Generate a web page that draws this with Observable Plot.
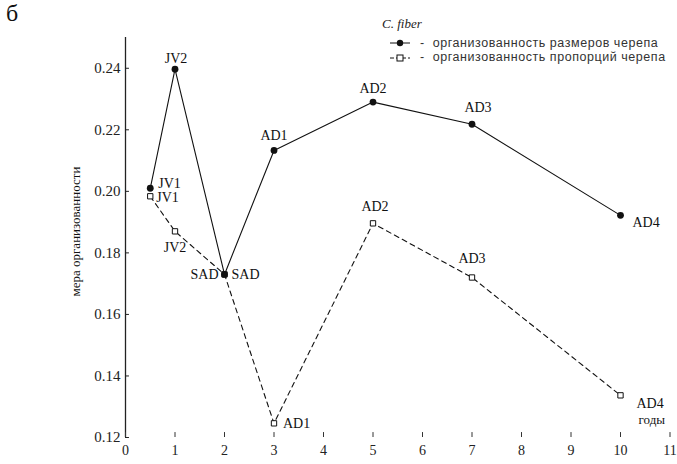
<!DOCTYPE html>
<html>
<head>
<meta charset="utf-8">
<script src="https://cdn.jsdelivr.net/npm/d3@7"></script>
<script src="https://cdn.jsdelivr.net/npm/@observablehq/plot@0.6"></script>
<style>
  body { margin: 0; background: #fff; }
  #wrap { position: relative; width: 677px; height: 464px; overflow: hidden; background: #fff; }
  #panel { position: absolute; left: 6px; top: 0px; font: 24px "Liberation Serif", serif; color: #111; }
  #legend { position: absolute; left: 380px; top: 16px; color: #222; white-space: nowrap; }
  #legend .title { font: italic 13px "Liberation Serif", serif; margin-left: 2px; height: 20px; }
  #legend .row { display: flex; align-items: center; height: 14.5px; font: 12.5px/13px "Liberation Sans", sans-serif; letter-spacing: 0.55px; color: #333; }
  #legend svg { margin-right: 6px; }
</style>
</head>
<body>
<div id="wrap">
  <div id="chart"></div>
  <div id="panel">б</div>
  <div id="legend">
    <div class="title">C. fiber</div>
    <div class="row"><svg width="34" height="10"><line x1="10" y1="5" x2="30" y2="5" stroke="#111"/><circle cx="20" cy="5" r="3.2" fill="#111"/></svg><span>-&nbsp; организованность размеров черепа</span></div>
    <div class="row"><svg width="34" height="10"><line x1="10" y1="5" x2="30" y2="5" stroke="#111" stroke-dasharray="4,2"/><rect x="17" y="2" width="6" height="6" fill="#fff" stroke="#111"/></svg><span>-&nbsp; организованность пропорций черепа</span></div>
  </div>
</div>
<script>
// ---- data ----
const stages = ["JV1", "JV2", "SAD", "AD1", "AD2", "AD3", "AD4"];
const years = [0.5, 1, 2, 3, 5, 7, 10];
const sizeOrg = [0.201, 0.2397, 0.173, 0.2133, 0.229, 0.2218, 0.1922];      // организованность размеров черепа
const propOrg = [0.1984, 0.187, 0.173, 0.1246, 0.1896, 0.172, 0.1337];      // организованность пропорций черепа
const xTicks = [0, 1, 2, 3, 4, 5, 6, 7, 8, 9, 10, 11];
const yTicks = [0.12, 0.14, 0.16, 0.18, 0.20, 0.22, 0.24];
const yLabel = "мера организованности";
const xLabel = "годы";

const s1 = stages.map((s, i) => ({stage: s, x: years[i], y: sizeOrg[i]}));
const s2 = stages.map((s, i) => ({stage: s, x: years[i], y: propOrg[i]}));

const serif = "Liberation Serif, Times New Roman, serif";

// label placement (screen offsets)
const place1 = {
  JV1: {dx: 8, dy: -5, a: "start"}, JV2: {dx: 1, dy: -11, a: "middle"}, SAD: {dx: 7, dy: 0, a: "start"},
  AD1: {dx: 0, dy: -15, a: "middle"}, AD2: {dx: 0, dy: -14, a: "middle"}, AD3: {dx: 6, dy: -17, a: "middle"},
  AD4: {dx: 12, dy: 7, a: "start"}
};
const place2 = {
  JV1: {dx: 6, dy: 1, a: "start"}, JV2: {dx: 0, dy: 16, a: "middle"}, SAD: {dx: -6, dy: 0, a: "end"},
  AD1: {dx: 9, dy: 0, a: "start"}, AD2: {dx: 2, dy: -17, a: "middle"}, AD3: {dx: 0, dy: -19, a: "middle"},
  AD4: {dx: 16, dy: 8, a: "start"}
};

function labelMarks(data, place) {
  return data.map(d => {
    const p = place[d.stage];
    return Plot.text([d], {x: "x", y: "y", text: "stage", dx: p.dx, dy: p.dy, textAnchor: p.a,
      fontSize: 14, fontFamily: serif, fill: "#111"});
  });
}

const chart = Plot.plot({
  width: 677,
  height: 464,
  marginLeft: 125,
  marginRight: 7.5,
  marginTop: 37,
  marginBottom: 27,
  style: {background: "transparent", fontFamily: serif, color: "#111"},
  x: {domain: [0, 11]},
  y: {domain: [0.12, 0.25]},
  marks: [
    Plot.axisX({ticks: xTicks, tickSize: 0, tickPadding: 8, fontSize: 14, fontFamily: serif, fill: "#222", label: null, tickFormat: d => String(d)}),
    Plot.axisY({ticks: yTicks, tickSize: 0, tickPadding: 5, fontSize: 15, fontFamily: serif, fill: "#222", label: null, tickFormat: d3.format(".2f")}),
    Plot.ruleX([0], {stroke: "#222", strokeWidth: 1.3}),
    Plot.ruleY(yTicks, {y: d => d, x1: 0, x2: 0.08, stroke: "#222"}),
    Plot.ruleX(xTicks, {x: d => d, y1: 0.12, y2: 0.1216, stroke: "#333"}),
    Plot.line(s1, {x: "x", y: "y", stroke: "#111", strokeWidth: 1.1}),
    Plot.line(s2, {x: "x", y: "y", stroke: "#111", strokeWidth: 1.1, strokeDasharray: "5,4"}),
    Plot.dot(s2, {x: "x", y: "y", symbol: "square", r: 3, fill: "white", stroke: "#111", strokeWidth: 1}),
    Plot.dot(s1, {x: "x", y: "y", r: 3.4, fill: "#111"}),
    ...labelMarks(s1, place1),
    ...labelMarks(s2, place2),
    Plot.text([yLabel], {text: d => d, frameAnchor: "left", textAnchor: "middle", rotate: -90, dx: -50, dy: -6, fontSize: 13, fontFamily: serif, fill: "#111"}),
    Plot.text([xLabel], {text: d => d, frameAnchor: "bottom-right", textAnchor: "end", dx: -5, dy: -14, fontSize: 13, fontFamily: serif, fill: "#111"})
  ]
});
document.getElementById("chart").appendChild(chart);
</script>
</body>
</html>
